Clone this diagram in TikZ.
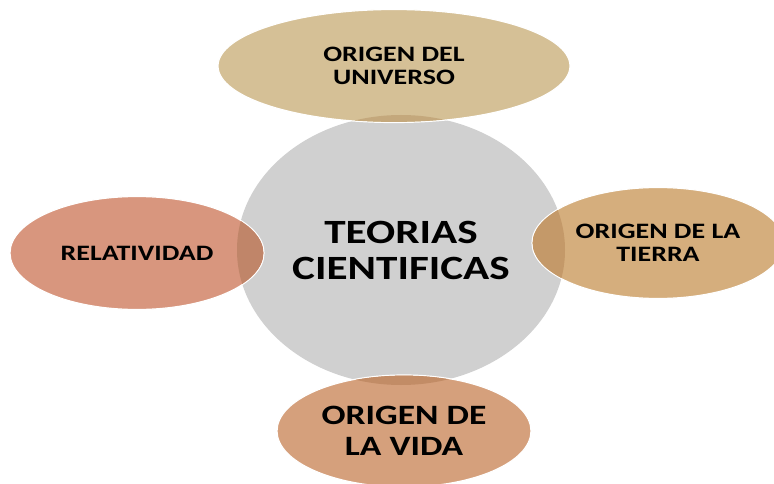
\documentclass[tikz,border=0pt]{standalone}
\usepackage{fontspec}
\setmainfont{Carlito}[FakeStretch=1.27]
\usepackage{tikz}
\usetikzlibrary{shapes.geometric}
\usepackage{xcolor}
\definecolor{hubgray}{RGB}{208,208,208}
\definecolor{sandtan}{RGB}{213,192,150}
\definecolor{sandtandark}{RGB}{196,168,124}
\definecolor{salmon}{RGB}{216,150,126}
\definecolor{salmondark}{RGB}{192,133,105}
\definecolor{ochre}{RGB}{213,174,125}
\definecolor{ochredark}{RGB}{196,153,105}
\definecolor{clay}{RGB}{213,160,124}
\definecolor{claydark}{RGB}{194,140,102}

\begin{document}
\begin{tikzpicture}[x=1pt,y=-1pt,
    hub/.style={ellipse, fill=hubgray, inner sep=0pt, minimum width=328pt, minimum height=270pt,
        align=center, font=\fontsize{34}{36}\selectfont\bfseries},
    petal/.style={ellipse, draw=white, line width=1.2pt, inner sep=0pt,
        align=center, font=\fontsize{22}{23}\selectfont\bfseries}]
    \useasboundingbox (0,0) rectangle (774,484);

    % --- Centre ---
    \node[hub] (teorias) at (401,250) {TEORIAS\\CIENTIFICAS};

    % --- Petals ---
    \node[petal, fill=sandtan, minimum width=352pt, minimum height=113pt] (universo) at (394,66) {ORIGEN DEL\\UNIVERSO};
    \node[petal, fill=salmon, minimum width=254pt, minimum height=113pt] (relatividad) at (137,253) {RELATIVIDAD};
    \node[petal, fill=ochre, minimum width=252pt, minimum height=111pt] (tierra) at (658,243) {ORIGEN DE LA\\TIERRA};
    \node[petal, fill=clay, minimum width=254pt, minimum height=112pt,
        font=\fontsize{28}{31}\selectfont\bfseries] (vida) at (404,431) {ORIGEN DE\\LA VIDA};

    % --- Overlaps ---
    \begin{scope}
        \clip (teorias.center) ellipse (164 and 135);
        \fill[sandtandark] (universo.center) ellipse (175.4 and 55.9);
        \fill[salmondark] (relatividad.center) ellipse (126.4 and 55.9);
        \fill[ochredark] (tierra.center) ellipse (125.4 and 54.9);
        \fill[claydark] (vida.center) ellipse (126.4 and 55.4);
    \end{scope}
\end{tikzpicture}
\end{document}
